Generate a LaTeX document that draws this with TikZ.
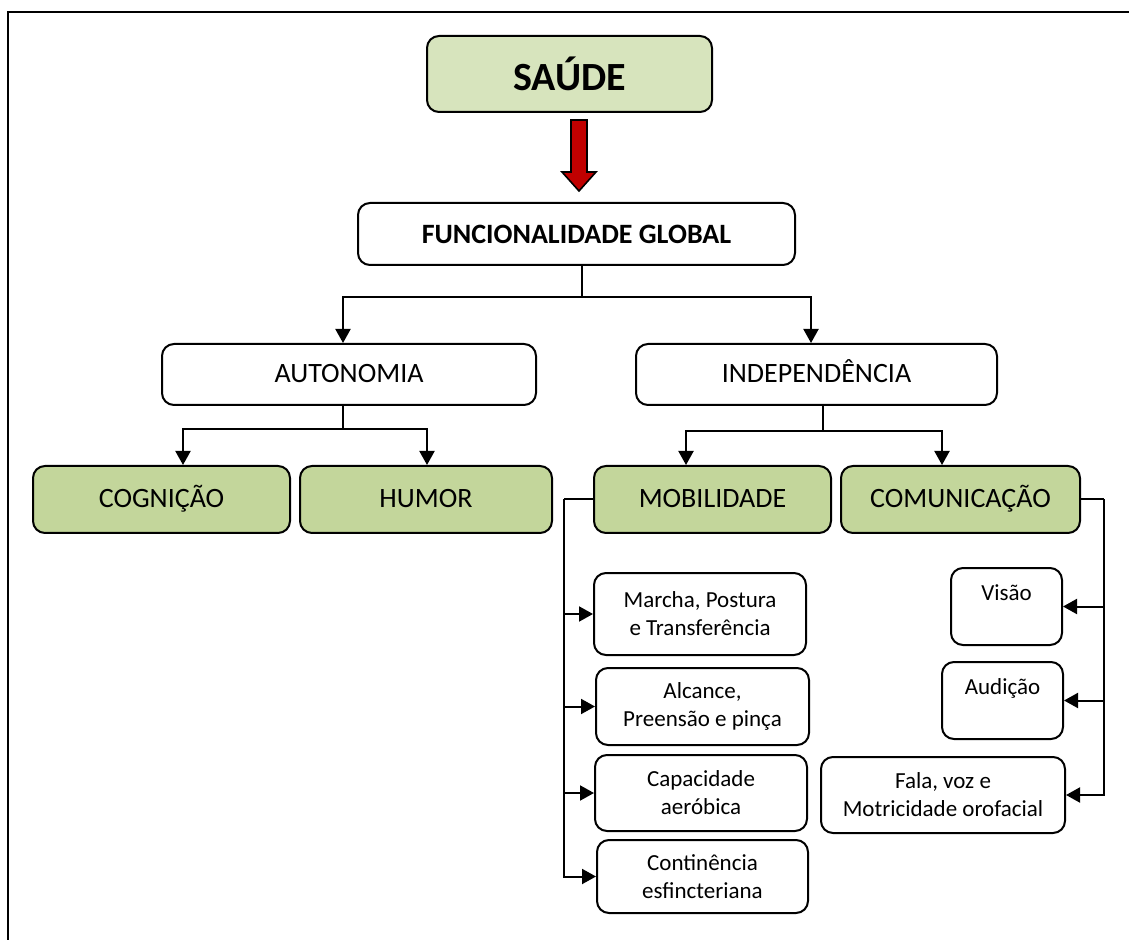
\documentclass[tikz,border=0pt]{standalone}
\usepackage{fontspec}
\setmainfont{Carlito}
\usetikzlibrary{calc,arrows.meta}
\definecolor{verdeclaro}{HTML}{D7E4BD}
\definecolor{verdemedio}{HTML}{C3D69B}
\definecolor{vermelho}{HTML}{C00000}

\begin{document}
\begin{tikzpicture}[x=0.5pt,y=-0.5pt,line width=1pt,
	>={Triangle[length=7pt,width=7.5pt]},
	caixa/.style={draw,line width=1pt,rounded corners=6pt,align=center,inner sep=0pt},
	nivel/.style={caixa,font=\fontsize{14}{17}\selectfont,text height=1.85ex,text depth=0.1ex},
	verde/.style={nivel,fill=verdemedio},
	sub/.style={caixa,font=\fontsize{11.5}{14}\selectfont}]
				\useasboundingbox (0,0) rectangle (1129,940);
				% moldura
				\draw (8,940)--(8,12)--(1129,12);

				\node[caixa,fill=verdeclaro,font=\fontsize{20}{24}\selectfont\bfseries,minimum width=142.5pt,minimum height=38pt] (saude) at (569.5,74) {SAÚDE};
				\node[caixa,font=\fontsize{14}{17}\selectfont\bfseries,minimum width=218.5pt,minimum height=31pt] (func) at (576.5,234) {FUNCIONALIDADE GLOBAL};

				\draw[fill=vermelho,line width=0.8pt] (571,120)--(587,120)--(587,172)--(596,172)--(579,191)--(562,172)--(571,172)--cycle;

				\node[nivel,minimum width=187pt,minimum height=30.5pt] (auto) at (349,374.5) {AUTONOMIA};
				\node[nivel,minimum width=180.5pt,minimum height=30.5pt] (indep) at (816.5,374.5) {INDEPENDÊNCIA};

				\node[verde,minimum width=128.5pt,minimum height=33.5pt] (cogn) at (161.5,499.5) {COGNIÇÃO};
				\node[verde,minimum width=126pt,minimum height=33.5pt] (humor) at (426,499.5) {HUMOR};
				\node[verde,minimum width=118.5pt,minimum height=33.5pt] (mobil) at (712.5,499.5) {MOBILIDADE};
				\node[verde,minimum width=119.5pt,minimum height=33.5pt] (comun) at (960.5,499.5) {COMUNICAÇÃO};

				\node[sub,minimum width=106pt,minimum height=41pt] (marcha) at (700,614) {Marcha, Postura\\e Transferência};
				\node[sub,minimum width=106.5pt,minimum height=38.5pt] (alcance) at (702.5,706.5) {Alcance,\\Preensão e pinça};
				\node[sub,minimum width=106pt,minimum height=38pt] (capac) at (701,793) {Capacidade\\aeróbica};
				\node[sub,minimum width=105.5pt,minimum height=36.5pt] (contin) at (702.5,876.5) {Continência\\esfincteriana};

				\node[sub,minimum width=55.5pt,minimum height=38.5pt] (visao) at (1006.5,606.5) {Visão\\\mbox{}};
				\node[sub,minimum width=60.5pt,minimum height=38.5pt] (audicao) at (1002.5,700.5) {Audição\\\mbox{}};
				\node[sub,minimum width=122pt,minimum height=38pt] (fala) at (943,795) {Fala, voz e\\Motricidade orofacial};

				% ligacoes
				\coordinate (f) at ($(func.south)+(5.5,0)$);
				\draw[->] (f)--++(0,31)-|($(auto.north)+(-6,0)$);
				\draw[->] (f)--++(0,31)-|($(indep.north)+(-5.5,0)$);

				\coordinate (a) at ($(auto.south)+(-6,0)$);
				\draw[->] (a)--++(0,23)-|($(cogn.north)+(21.5,0)$);
				\draw[->] (a)--++(0,23)-|($(humor.north)+(1,0)$);

				\coordinate (i) at ($(indep.south)+(6.5,0)$);
				\draw[->] (i)--++(0,25)-|($(mobil.north)+(-26.5,0)$);
				\draw[->] (i)--++(0,25)-|($(comun.north)+(-18.5,0)$);

				\draw (mobil.west)--++(-29,0) coordinate (m);
				\foreach \n in {marcha,alcance,capac,contin}
				{
					\draw[->] (m)|-(\n.west);
				};

				\draw (comun.east)--++(23,0) coordinate (c);
				\foreach \n in {visao,audicao,fala}
				{
					\draw[->] (c)|-(\n.east);
				};
			\end{tikzpicture}
\end{document}
